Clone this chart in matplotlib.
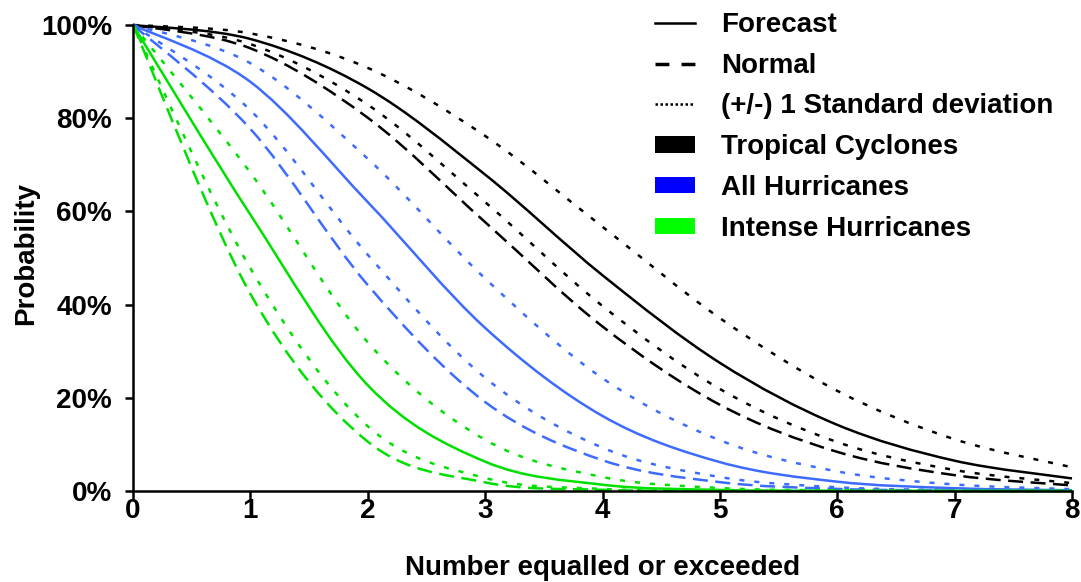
import numpy as np
import matplotlib
matplotlib.use("Agg")
import matplotlib.pyplot as plt
from matplotlib.path import Path
from matplotlib.patches import PathPatch, Patch
from matplotlib.lines import Line2D

plt.rcParams['font.family'] = ['Liberation Sans', 'DejaVu Sans']
plt.rcParams['font.weight'] = 'bold'

# number equalled or exceeded
counts = [0, 1, 2, 3, 4, 5, 6, 7, 8]

# probability (%)
tc_forecast = [100, 97.0, 86.4, 67.9, 46.3, 27.5, 14.2, 6.5, 2.7]
tc_upper = [100, 98.2, 90.8, 76.2, 56.7, 37.1, 21.5, 11.1, 5.1]
tc_lower = [100, 95.9, 82.9, 62.0, 39.7, 21.9, 10.5, 4.5, 1.7]
tc_normal = [100, 95.0, 80.1, 57.7, 35.3, 18.5, 8.4, 3.4, 1.2]

hu_forecast = [100, 87.8, 62.0, 35.0, 16.1, 6.2, 2.0, 0.6, 0.15]
hu_upper = [100, 91.8, 71.3, 45.6, 24.2, 10.9, 4.2, 1.4, 0.4]
hu_lower = [100, 81.7, 50.7, 24.3, 9.3, 3.0, 0.8, 0.2, 0.04]
hu_normal = [100, 77.7, 44.2, 19.1, 6.6, 1.9, 0.45, 0.1, 0.02]

ih_forecast = [100, 59.3, 22.7, 6.3, 1.35, 0.23, 0.03, 0, 0]
ih_upper = [100, 68.3, 31.9, 11.0, 3.0, 0.65, 0.12, 0.02, 0]
ih_lower = [100, 47.8, 13.9, 2.8, 0.44, 0.05, 0, 0, 0]
ih_normal = [100, 42.3, 10.6, 1.85, 0.25, 0.03, 0, 0, 0]

legend_labels = ["Forecast", "Normal", "(+/-) 1 Standard deviation",
                 "Tropical Cyclones", "All Hurricanes", "Intense Hurricanes"]

BLACK = '#000000'
BLUE = '#3d6bff'
GREEN = '#00e000'

SOLID = '-'
DASHED = (0, (6, 3))
DOTTED = (0, (2, 4))
FS = 20


def smooth_path(x, y):
    # excel-like smoothed line (bezier through the data points)
    pts = np.column_stack([x, np.asarray(y) / 100.0])
    n = len(pts)
    verts = [pts[0]]
    codes = [Path.MOVETO]
    for i in range(n - 1):
        p0 = pts[i - 1] if i > 0 else pts[i]
        p1 = pts[i]
        p2 = pts[i + 1]
        p3 = pts[i + 2] if i + 2 < n else pts[i + 1]
        verts += [p1 + (p2 - p0) / 6, p2 - (p3 - p1) / 6, p2]
        codes += [Path.CURVE4] * 3
    return Path(verts, codes)


fig = plt.figure(figsize=(10.81, 5.82), dpi=100)
ax = fig.add_axes([133 / 1081, 1 - 491 / 582, (1072 - 133) / 1081, (491 - 25) / 582])

series = [
    (tc_upper, BLACK, DOTTED), (tc_lower, BLACK, DOTTED), (tc_normal, BLACK, DASHED), (tc_forecast, BLACK, SOLID),
    (hu_upper, BLUE, DOTTED), (hu_lower, BLUE, DOTTED), (hu_normal, BLUE, DASHED), (hu_forecast, BLUE, SOLID),
    (ih_upper, GREEN, DOTTED), (ih_lower, GREEN, DOTTED), (ih_normal, GREEN, DASHED), (ih_forecast, GREEN, SOLID),
]
for vals, col, ls in series:
    ax.add_patch(PathPatch(smooth_path(counts, vals), fill=False, edgecolor=col,
                           lw=1.8, linestyle=ls, clip_on=False))

ax.set_xlim(0, 8)
ax.set_ylim(0, 1)
ax.set_xticks(counts)
ax.set_yticks([0, 0.2, 0.4, 0.6, 0.8, 1.0])
ax.set_yticklabels(['0%', '20%', '40%', '60%', '80%', '100%'])
ax.tick_params(labelsize=FS, width=1.8, length=6, direction='out')
ax.tick_params(axis='y', pad=9)
ax.tick_params(axis='x', pad=-1)
for s in ['top', 'right']:
    ax.spines[s].set_visible(False)
for s in ['left', 'bottom']:
    ax.spines[s].set_linewidth(1.8)

ax.set_xlabel("Number equalled or exceeded", fontsize=FS, fontweight='bold', va='top')
ax.xaxis.set_label_coords(0.5, -0.137)
ax.set_ylabel("Probability", fontsize=FS, fontweight='bold')
ax.yaxis.set_label_coords(-0.100, 0.51)

handles = [
    Line2D([], [], color='k', lw=1.8, ls='-'),
    Line2D([], [], color='k', lw=2.5, dashes=(4, 3.5)),
    Line2D([], [], color='k', lw=1.8, dashes=(1, 1)),
    Patch(facecolor='k', edgecolor='none'),
    Patch(facecolor='#0000ff', edgecolor='none'),
    Patch(facecolor='#00ff00', edgecolor='none'),
]
fig.legend(handles, legend_labels, loc='upper left', bbox_to_anchor=(655 / 1081, 1 - 12 / 582),
           frameon=False, prop={'weight': 'bold', 'size': FS},
           handlelength=1.44, handleheight=0.54, handletextpad=0.94,
           labelspacing=0.53, borderpad=0, borderaxespad=0)

fig.savefig('out.png', dpi=100)
